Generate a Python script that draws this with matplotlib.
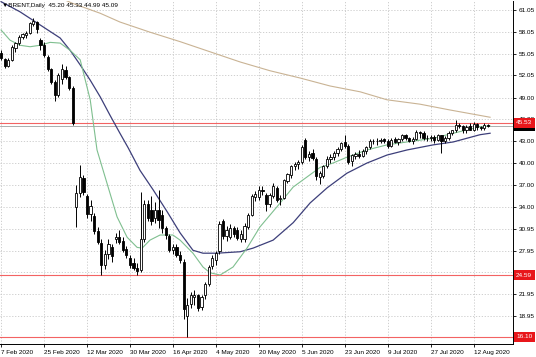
#!/usr/bin/env python3
"""
BRENT daily candles, Feb-Aug 2020, drawn like a MetaTrader chart window.
Output: out.png (536x357)
"""

import numpy as np
import matplotlib
matplotlib.use("Agg")
import matplotlib.pyplot as plt

# ── candles (bar 0 = 7 Feb 2020, one bar per trading day) ──────────────────
OPEN = [
    55.2, 54.3, 53.4, 54.2, 55.8, 56.5, 57.4, 57.6, 57.9, 59.1,
    59.4, 56.9, 56.3, 54.6, 52.9, 51.1, 49.4, 51.6, 52.8, 51.8,
    50.3, 34.0, 35.9, 37.9, 35.4, 33.0, 32.7, 30.6, 29.0, 26.0,
    27.5, 28.4, 29.6, 29.8, 29.3, 28.2, 27.0, 26.3, 25.6, 25.3,
    29.5, 34.3, 33.6, 32.5, 33.6, 32.8, 31.0, 30.0, 28.0, 28.4,
    27.4, 26.4, 19.0, 20.6, 21.6, 21.8, 20.2, 21.8, 23.4, 25.9,
    26.7, 27.9, 32.0, 30.0, 29.8, 31.0, 30.8, 29.5, 29.6, 31.2,
    32.9, 35.3, 35.3, 36.3, 35.6, 34.3, 35.4, 36.6, 35.0, 35.2,
    37.5, 38.4, 39.6, 39.9, 40.1, 43.2, 40.8, 41.4, 40.6, 38.1,
    38.2, 39.6, 40.6, 40.8, 41.4, 41.9, 42.9, 42.3, 40.3, 41.0,
    41.2, 41.0, 41.6, 42.2, 43.0, 43.1, 43.0, 43.3, 43.1, 42.4,
    43.3, 42.9, 43.3, 43.8, 43.4, 43.1, 43.3, 44.3, 44.2, 43.4,
    43.5, 43.6, 43.2, 43.8, 43.0, 43.4, 44.2, 44.5, 45.2, 45.1,
    44.5, 45.1, 44.6, 45.4, 44.9, 44.8, 45.20,
]
HIGH = [
    55.5, 54.5, 54.4, 56.2, 56.7, 57.6, 57.9, 58.1, 59.4, 59.9,
    59.6, 57.2, 56.6, 54.9, 53.1, 51.4, 52.4, 53.6, 53.3, 52.0,
    50.6, 37.0, 39.7, 38.4, 35.8, 34.9, 33.1, 31.2, 29.5, 28.0,
    29.6, 28.8, 30.4, 30.8, 29.8, 28.6, 27.4, 27.0, 26.2, 36.0,
    34.9, 34.9, 35.4, 34.7, 36.3, 33.5, 31.3, 30.3, 28.9, 28.8,
    27.9, 26.8, 21.5, 22.3, 22.5, 22.0, 21.9, 23.6, 26.0, 27.4,
    27.9, 32.0, 32.3, 31.4, 31.6, 31.4, 31.2, 30.8, 31.7, 33.1,
    35.8, 36.2, 36.9, 36.8, 35.9, 35.9, 37.2, 36.9, 35.6, 37.8,
    38.7, 39.8, 40.2, 40.4, 42.5, 43.4, 41.6, 41.9, 40.9, 38.9,
    39.8, 41.0, 41.3, 41.6, 42.2, 42.9, 43.9, 42.6, 41.3, 41.5,
    41.8, 41.9, 42.4, 43.3, 43.3, 43.4, 43.4, 43.5, 43.3, 43.4,
    43.6, 43.5, 44.0, 44.0, 43.6, 43.6, 44.6, 44.4, 44.4, 43.8,
    43.9, 43.8, 44.0, 43.9, 43.7, 44.4, 44.6, 45.9, 45.5, 45.3,
    45.3, 45.5, 45.6, 45.5, 45.1, 45.5, 45.33,
]
LOW = [
    54.2, 53.1, 53.2, 54.0, 55.3, 56.2, 57.1, 57.2, 57.7, 58.8,
    57.9, 55.5, 54.6, 52.6, 50.9, 48.5, 49.1, 50.9, 51.6, 50.0,
    45.2, 31.2, 35.3, 35.6, 32.5, 32.0, 30.2, 28.8, 24.6, 25.4,
    26.8, 26.4, 29.0, 28.9, 27.7, 27.0, 25.5, 25.3, 24.6, 25.0,
    29.2, 32.0, 31.5, 31.8, 31.0, 30.4, 29.6, 27.7, 27.5, 27.1,
    26.3, 18.6, 16.1, 20.0, 20.5, 19.6, 19.8, 21.3, 23.1, 25.4,
    26.0, 27.5, 29.6, 29.3, 29.5, 29.8, 29.4, 29.1, 29.2, 30.9,
    32.7, 34.8, 34.9, 35.6, 33.4, 34.0, 35.2, 34.6, 34.2, 35.0,
    37.2, 38.0, 39.1, 39.2, 39.9, 40.6, 40.3, 40.4, 37.6, 37.1,
    37.9, 39.3, 40.0, 40.4, 41.0, 41.6, 42.1, 39.9, 39.6, 40.5,
    40.7, 40.8, 41.2, 42.0, 42.6, 42.5, 42.7, 42.7, 42.1, 42.2,
    42.7, 42.5, 43.1, 43.2, 42.9, 42.6, 43.2, 43.5, 43.2, 43.0,
    43.0, 42.8, 43.0, 41.4, 42.7, 43.2, 43.8, 44.3, 44.8, 44.2,
    44.2, 44.5, 44.4, 44.6, 44.5, 44.6, 44.99,
]
CLOSE = [
    54.5, 53.4, 54.2, 56.0, 56.5, 57.4, 57.7, 57.9, 59.2, 59.5,
    58.4, 56.2, 54.8, 52.9, 51.2, 49.3, 52.1, 52.9, 51.9, 50.3,
    45.5, 35.9, 38.1, 36.0, 33.0, 34.1, 30.6, 29.2, 26.0, 27.5,
    28.9, 27.2, 29.8, 29.2, 28.0, 27.3, 26.0, 25.6, 25.1, 29.6,
    34.3, 32.5, 32.0, 33.6, 32.2, 31.0, 30.1, 28.0, 28.5, 27.4,
    26.7, 19.9, 20.5, 21.8, 21.9, 20.0, 21.6, 23.3, 25.7, 27.0,
    27.6, 31.6, 29.9, 30.8, 31.0, 30.2, 29.7, 30.3, 31.4, 32.8,
    35.5, 35.7, 36.3, 36.1, 34.3, 35.6, 36.9, 34.9, 35.2, 37.6,
    38.5, 39.6, 39.9, 40.1, 42.2, 40.8, 41.2, 40.7, 38.2, 38.6,
    39.6, 40.6, 40.8, 41.4, 42.0, 42.7, 42.4, 40.2, 41.1, 41.2,
    41.0, 41.6, 42.2, 43.0, 43.0, 43.0, 43.2, 43.0, 42.4, 43.2,
    42.9, 43.3, 43.8, 43.4, 43.1, 43.3, 44.3, 44.2, 43.4, 43.5,
    43.6, 43.2, 43.8, 43.0, 43.4, 44.2, 44.5, 45.2, 45.1, 44.5,
    45.0, 44.6, 45.4, 44.9, 44.8, 45.3, 45.09,
]

# ── moving averages as (bar, price) points ─────────────────────────────────
MA_FAST_BAR = [0, 2.5, 5.3, 8.1, 10.9, 13.7, 16.5, 19.3, 22.1, 24.9, 26.8,
               29.6, 32.4, 35.2, 38.0, 39.4, 41.6, 44.4, 48.0, 50.0, 53.6,
               56.4, 58.4, 61.2, 64.8, 68.7, 72.3, 77.1, 81.6, 85.5, 89.1,
               92.7, 96.6, 102.2, 107.8, 113.4, 120.7, 126.3, 133.8, 136.6]
MA_FAST_VAL = [58.3, 56.9, 56.2, 56.0, 56.2, 56.6, 56.5, 55.5, 54.2, 48.7, 41.8,
               37.2, 32.6, 29.8, 28.4, 28.3, 29.4, 30.1, 30.1, 29.4, 27.6,
               25.7, 24.9, 24.6, 25.7, 28.3, 31.2, 34.0, 36.7, 38.1, 39.4,
               40.0, 40.8, 41.8, 42.5, 42.9, 43.4, 44.1, 45.0, 45.1]

MA_MID_BAR = [0, 5.3, 10.9, 16.5, 19.3, 22.1, 24.9, 27.7, 30.4, 33.2, 35.5,
              38.8, 42.5, 46.4, 50.0, 53.6, 56.4, 60.3, 66.8, 70.4, 76.0,
              81.6, 86.3, 91.1, 96.6, 102.2, 107.8, 113.4, 120.7, 126.3,
              133.8, 136.6]
MA_MID_VAL = [62.2, 60.8, 59.0, 57.2, 55.5, 53.5, 51.4, 49.1, 46.6, 44.1, 42.1,
              39.0, 36.3, 33.3, 30.4, 28.0, 27.6, 27.6, 27.8, 28.3, 29.4,
              31.8, 34.5, 36.6, 38.6, 40.0, 41.1, 41.8, 42.5, 42.9,
              43.9, 44.1]

MA_SLOW_BAR = [18.0, 19.8, 27.7, 33.2, 41.6, 50.0, 58.4, 66.8, 75.1, 83.5,
               91.9, 100.3, 107.8, 117.0, 125.4, 136.6]
MA_SLOW_VAL = [62.4, 62.0, 60.6, 59.4, 58.0, 56.7, 55.3, 53.9, 52.7, 51.7,
               50.6, 49.8, 48.7, 48.1, 47.3, 46.3]

# ── horizontal lines and axis text ─────────────────────────────────────────
LEVELS      = [45.53, 24.59, 16.10]
BID         = 45.09
HEADER      = "\u25bcBRENT,Daily  45.20 45.33 44.99 45.09"
DATE_LABELS = ["7 Feb 2020", "25 Feb 2020", "12 Mar 2020", "30 Mar 2020",
               "16 Apr 2020", "4 May 2020", "20 May 2020", "5 Jun 2020",
               "23 Jun 2020", "9 Jul 2020", "27 Jul 2020", "12 Aug 2020"]
DATE_STEP   = 12
PRICE_TICKS = [61.05, 58.05, 55.05, 52.05, 49.00, 46.00, 43.00, 40.00,
               37.00, 34.00, 30.95, 27.95, 24.95, 21.95, 18.95]

# ── styling ────────────────────────────────────────────────────────────────
FS        = 4.6
GRID_C    = "#c8c8c8"
LEVEL_C   = "#f03c3c"
TAG_C     = "#e8171b"
FAST_C    = "#7fbf8f"
MID_C     = "#3d3f7a"
SLOW_C    = "#c9b394"

plt.rcParams["font.family"] = ["Liberation Sans", "DejaVu Sans"]

fig = plt.figure(figsize=(5.36, 3.57), dpi=100)
ax = fig.add_axes([0.0, 13 / 357, 513 / 536, 343 / 357])

o = np.array(OPEN); h = np.array(HIGH); l = np.array(LOW); c = np.array(CLOSE)
x = np.arange(len(o))
up = c >= o

# grid
for t in np.arange(len(DATE_LABELS)) * DATE_STEP:
    ax.axvline(t, color=GRID_C, lw=0.6, ls=(0, (1.5, 2)), zorder=0)
for p in PRICE_TICKS:
    ax.axhline(p, color=GRID_C, lw=0.6, ls=(0, (1.5, 2)), zorder=0)

# levels
for lv in LEVELS:
    ax.axhline(lv, color=LEVEL_C, lw=0.8, alpha=0.8, zorder=1)
ax.axhline(BID, color="#a0a0a0", lw=0.6, zorder=1)

# moving averages
ax.plot(MA_SLOW_BAR, MA_SLOW_VAL, color=SLOW_C, lw=0.8, zorder=2)
ax.plot(MA_MID_BAR, MA_MID_VAL, color=MID_C, lw=0.9, zorder=2)
ax.plot(MA_FAST_BAR, MA_FAST_VAL, color=FAST_C, lw=0.8, zorder=2)

# candles
ax.vlines(x, l, h, color="black", lw=0.7, zorder=3)
body_lo = np.minimum(o, c)
body_h = np.maximum(np.abs(c - o), 0.06)
ax.bar(x[up], body_h[up], bottom=body_lo[up], width=0.62,
       color="white", edgecolor="black", linewidth=0.6, zorder=4)
ax.bar(x[~up], body_h[~up], bottom=body_lo[~up], width=0.62,
       color="black", edgecolor="black", linewidth=0.6, zorder=4)

# axes
ax.set_xlim(-0.3, 143.0)
ax.set_ylim(15.11, 62.29)
ax.set_xticks(np.arange(len(DATE_LABELS)) * DATE_STEP)
ax.set_xticklabels(DATE_LABELS, ha="left", fontsize=FS)
ax.set_yticks(PRICE_TICKS)
ax.set_yticklabels([f"{p:.2f}" for p in PRICE_TICKS], fontsize=FS)
ax.yaxis.tick_right()
ax.tick_params(axis="both", length=2.5, width=0.6, pad=1.5, colors="black")
for side in ("top", "left"):
    ax.spines[side].set_visible(False)
for side in ("right", "bottom"):
    ax.spines[side].set_linewidth(0.7)

# price tags on the right axis (bid tag sits under the 45.53 tag)
tags = [(BID, "black", 6), (LEVELS[0], TAG_C, 7), (LEVELS[1], TAG_C, 7), (LEVELS[2], TAG_C, 7)]
for price, col, z in tags:
    ax.annotate(f"{price:.2f}", xy=(1.0, price), xycoords=("axes fraction", "data"),
                xytext=(2.2, 0), textcoords="offset points", va="center", ha="left",
                fontsize=FS, color="white", annotation_clip=False,
                bbox=dict(boxstyle="square,pad=0.4", fc=col, ec="none"), zorder=z)

ax.text(0.004, 0.993, HEADER, transform=ax.transAxes, ha="left", va="top",
        fontsize=FS, color="black", zorder=7)

fig.savefig("out.png", dpi=100)
